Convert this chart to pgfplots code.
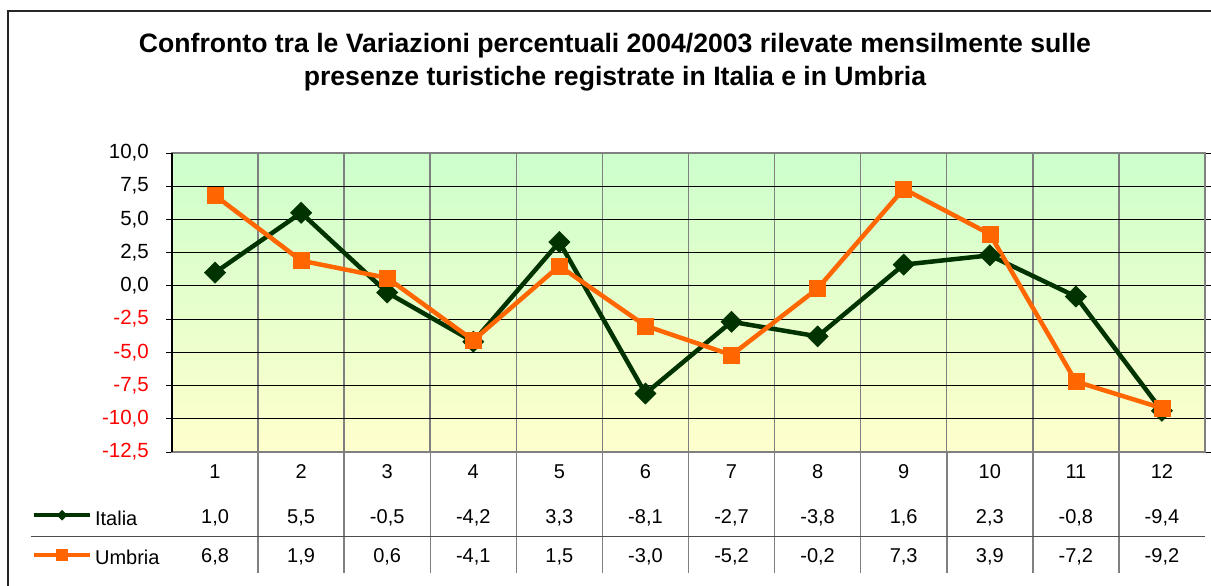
\documentclass[border=0pt]{standalone}
\usepackage{fontspec}
\setmainfont{Liberation Sans}
\usepackage{pgfplots}
\pgfplotsset{compat=1.18}
\definecolor{italia}{RGB}{0,51,0}
\definecolor{umbria}{RGB}{255,102,0}
\definecolor{bgtop}{RGB}{204,255,204}
\definecolor{bgbot}{RGB}{255,255,204}
\definecolor{frame}{RGB}{128,128,128}
\begin{document}
\begin{tikzpicture}[x=1pt,y=1pt]
\useasboundingbox (0,0) rectangle (1211,-586);
\fill[white] (0,0) rectangle (1211,-586);
\draw[line width=1.5pt, black!85] (8,-586) -- (8,-11) -- (1211,-11);
\node[anchor=base, inner sep=0pt, font=\bfseries\fontsize{26.6}{31}\selectfont] at (615,-53) {Confronto tra le Variazioni percentuali 2004/2003 rilevate mensilmente sulle};
\node[anchor=base, inner sep=0pt, font=\bfseries\fontsize{26.6}{31}\selectfont] at (615,-85) {presenze turistiche registrate in Italia e in Umbria};
\begin{axis}[at={(172pt,-452pt)}, anchor=south west, scale only axis,
  width=1033pt, height=299pt,
  xmin=0.5, xmax=12.5, ymin=-12.5, ymax=10,
  xtick={1.5,2.5,...,11.5}, xticklabels={}, xmajorgrids,
  xtick style={draw=none},
  ytick={-12.5,-10,...,10},
  yticklabels={{\textcolor{red}{-12,5}},{\textcolor{red}{-10,0}},{\textcolor{red}{-7,5}},{\textcolor{red}{-5,0}},{\textcolor{red}{-2,5}},{0,0},{2,5},{5,0},{7,5},{10,0}},
  ymajorgrids,
  y grid style={black, line width=0.8pt},
  x grid style={frame, line width=1.5pt},
  axis line style={frame, line width=2.5pt},
  tick align=outside, major tick length=6pt,
  ytick style={black, line width=1pt},
  yticklabel style={font=\fontsize{20.5}{24}\selectfont, inner sep=0pt, anchor=east, xshift=-17pt},
  axis background/.style={top color=bgtop, bottom color=bgbot},
  legend style={at={(axis description cs:-0.1356,-0.1940)}, anchor=north west, draw=none, fill=none, inner sep=0pt, row sep=19pt, column sep=3pt, font=\fontsize{20}{24}\selectfont, nodes={inner sep=0pt, text height=15pt, text depth=5pt}},
  legend cell align=left,
  legend image code/.code={\draw[mark repeat=2, mark phase=2, #1] plot coordinates {(0pt,5pt) (28pt,5pt) (56pt,5pt)};},
]
\addplot[italia, line width=4.5pt, mark=square*, mark size=7.5pt, mark options={rotate=45, solid, line width=0.5pt, fill=italia}, forget plot] coordinates {
(1,1.0) (2,5.5) (3,-0.5) (4,-4.2) (5,3.3) (6,-8.1) (7,-2.7) (8,-3.8) (9,1.6) (10,2.3) (11,-0.8) (12,-9.4)};
\addplot[umbria, line width=4.5pt, mark=square*, mark size=8pt, mark options={solid, line width=0.5pt, fill=umbria}, forget plot] coordinates {
(1,6.8) (2,1.9) (3,0.6) (4,-4.1) (5,1.5) (6,-3.0) (7,-5.2) (8,-0.2) (9,7.3) (10,3.9) (11,-7.2) (12,-9.2)};
\addlegendimage{italia, line width=4pt, mark=square*, mark size=3.5pt, mark options={rotate=45, solid, line width=0.5pt, fill=italia}}
\addlegendentry{Italia}
\addlegendimage{umbria, line width=4pt, mark=square*, mark size=5.5pt, mark options={solid, line width=0.5pt, fill=umbria}}
\addlegendentry{Umbria}
\end{axis}
\draw[black, line width=2pt] (172,-153) -- (172,-452);
\foreach \k in {1,...,11} \draw[frame, line width=1.5pt] ({172+\k*86.083},-452) -- ({172+\k*86.083},-573);
\draw[black!70, line width=1pt] (31,-536) -- (1205,-536);
\foreach \v [count=\i] in {1,2,3,4,5,6,7,8,9,10,11,12}
  \node[anchor=base, inner sep=0pt, font=\fontsize{20}{24}\selectfont] at ({172+(\i-0.5)*86.083},-478) {\v};
\foreach \v [count=\i] in {{1,0},{5,5},{-0,5},{-4,2},{3,3},{-8,1},{-2,7},{-3,8},{1,6},{2,3},{-0,8},{-9,4}}
  \node[anchor=base, inner sep=0pt, font=\fontsize{20}{24}\selectfont] at ({172+(\i-0.5)*86.083},-523) {\v};
\foreach \v [count=\i] in {{6,8},{1,9},{0,6},{-4,1},{1,5},{-3,0},{-5,2},{-0,2},{7,3},{3,9},{-7,2},{-9,2}}
  \node[anchor=base, inner sep=0pt, font=\fontsize{20}{24}\selectfont] at ({172+(\i-0.5)*86.083},-562) {\v};
\end{tikzpicture}
\end{document}
